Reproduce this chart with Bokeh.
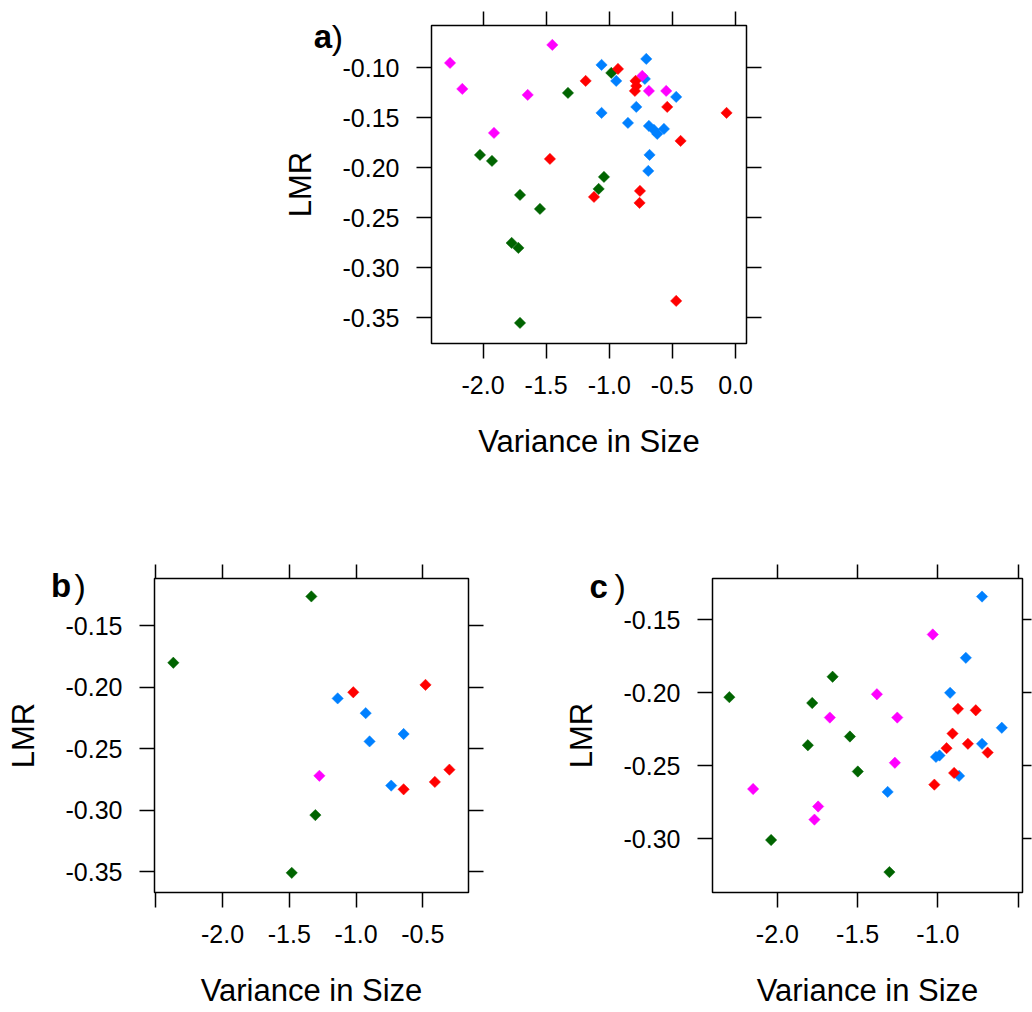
import numpy as np
from bokeh.plotting import figure
from bokeh.models import Range1d, LinearAxis, FixedTicker, Label
from bokeh.layouts import column, row
from bokeh.embed import file_html
from bokeh.resources import INLINE

# ---------------- data ----------------
# panel a
a_green_x = [-2.024, -1.929, -1.327, -0.984, -1.707, -1.549, -1.773, -1.720, -1.707, -1.042, -1.084]
a_green_y = [-0.187, -0.193, -0.125, -0.105, -0.227, -0.241, -0.275, -0.280, -0.355, -0.209, -0.221]
a_blue_x = [-1.061, -0.707, -0.945, -0.718, -0.470, -1.061, -0.786, -0.852, -0.686, -0.646, -0.620, -0.567, -0.681, -0.691]
a_blue_y = [-0.097, -0.091, -0.113, -0.111, -0.129, -0.145, -0.139, -0.155, -0.158, -0.162, -0.166, -0.161, -0.187, -0.203]
a_magenta_x = [-2.261, -2.164, -1.451, -1.646, -1.913, -0.739, -0.686, -0.549]
a_magenta_y = [-0.095, -0.121, -0.077, -0.127, -0.165, -0.108, -0.123, -0.123]
a_red_x = [-1.187, -0.931, -0.792, -0.786, -0.797, -0.541, -0.071, -0.435, -1.470, -1.121, -0.757, -0.760, -0.470]
a_red_y = [-0.113, -0.101, -0.113, -0.118, -0.123, -0.139, -0.145, -0.173, -0.191, -0.229, -0.223, -0.235, -0.333]

# panel b
b_green_x = [-1.335, -2.369, -1.305, -1.482]
b_green_y = [-0.126, -0.180, -0.304, -0.351]
b_blue_x = [-1.138, -0.928, -0.899, -0.644, -0.737]
b_blue_y = [-0.209, -0.221, -0.244, -0.238, -0.280]
b_magenta_x = [-1.275]
b_magenta_y = [-0.272]
b_red_x = [-1.021, -0.480, -0.301, -0.410, -0.644]
b_red_y = [-0.204, -0.198, -0.267, -0.277, -0.283]

# panel c
c_green_x = [-1.656, -2.299, -1.783, -1.548, -1.810, -1.499, -2.039, -1.302]
c_green_y = [-0.189, -0.203, -0.207, -0.230, -0.236, -0.254, -0.301, -0.323]
c_blue_x = [-0.725, -0.826, -0.924, -0.602, -0.725, -1.012, -0.990, -0.868, -1.313]
c_blue_y = [-0.134, -0.176, -0.200, -0.224, -0.235, -0.244, -0.243, -0.257, -0.268]
c_magenta_x = [-1.032, -1.380, -1.673, -1.253, -1.268, -2.151, -1.746, -1.769]
c_magenta_y = [-0.160, -0.201, -0.217, -0.217, -0.248, -0.266, -0.278, -0.287]
c_red_x = [-0.875, -0.764, -0.909, -0.813, -0.946, -0.690, -0.899, -1.022]
c_red_y = [-0.211, -0.212, -0.228, -0.235, -0.238, -0.241, -0.255, -0.263]

# ticks
a_xticks = [-2.0, -1.5, -1.0, -0.5, 0.0]
a_xlabels = ["-2.0", "-1.5", "-1.0", "-0.5", "0.0"]
a_yticks = [-0.35, -0.30, -0.25, -0.20, -0.15, -0.10]
a_ylabels = ["-0.35", "-0.30", "-0.25", "-0.20", "-0.15", "-0.10"]
b_xticks = [-2.5, -2.0, -1.5, -1.0, -0.5]
b_xlabels = ["", "-2.0", "-1.5", "-1.0", "-0.5"]
b_yticks = [-0.35, -0.30, -0.25, -0.20, -0.15]
b_ylabels = ["-0.35", "-0.30", "-0.25", "-0.20", "-0.15"]
c_xticks = [-2.0, -1.5, -1.0, -0.5]
c_xlabels = ["-2.0", "-1.5", "-1.0", ""]
c_yticks = [-0.30, -0.25, -0.20, -0.15]
c_ylabels = ["-0.30", "-0.25", "-0.20", "-0.15"]

colors = {"green": "#006400", "blue": "#0080FF", "magenta": "#FF00FF", "red": "#FF0000"}
FONT = "Liberation Sans"


def style_axis(ax, ticks, labels, show_labels, tick_out=15):
    ax.ticker = FixedTicker(ticks=ticks)
    ax.major_label_overrides = {t: (l if show_labels else "") for t, l in zip(ticks, labels)}
    ax.axis_line_color = None
    ax.major_tick_line_color = "black"
    ax.major_tick_line_width = 1.5
    ax.major_tick_out = tick_out
    ax.major_tick_in = 0
    ax.minor_tick_line_color = None
    ax.major_label_text_font = FONT
    ax.major_label_text_color = "black"
    ax.major_label_text_font_size = "25px" if show_labels else "0px"
    ax.axis_label_text_font = FONT
    ax.axis_label_text_font_size = "31px"
    ax.axis_label_text_font_style = "normal"
    ax.axis_label_text_color = "black"


def panel(width, height, left, right, top, bottom, xr, yr, xt, xl, yt, yl, data,
          letter, side, lx, ly, px, py, right_tick=15):
    p = figure(width=width, height=height, x_range=Range1d(*xr), y_range=Range1d(*yr),
               output_backend="svg", toolbar_location=None, tools="",
               x_axis_location=None, y_axis_location=None,
               min_border_left=left, min_border_right=right,
               min_border_top=top, min_border_bottom=bottom)
    p.grid.visible = False
    p.outline_line_color = "black"
    p.outline_line_width = 1.5
    p.background_fill_color = "white"
    p.border_fill_color = "white"

    xb = LinearAxis(axis_label="Variance in Size")
    style_axis(xb, xt, xl, True)
    xb.major_label_standoff = 17
    xb.axis_label_standoff = 27
    p.add_layout(xb, "below")
    xa = LinearAxis()
    style_axis(xa, xt, xl, False, 14)
    xa.major_label_standoff = 0
    p.add_layout(xa, "above")
    yb = LinearAxis(axis_label="LMR")
    style_axis(yb, yt, yl, True)
    yb.major_label_standoff = 17
    yb.axis_label_standoff = 22
    p.add_layout(yb, "left")
    ya = LinearAxis()
    style_axis(ya, yt, yl, False, right_tick)
    ya.major_label_standoff = 0
    p.add_layout(ya, "right")

    for name in ["green", "blue", "magenta", "red"]:
        xs, ys = data[name]
        p.scatter(xs, ys, marker="square", angle=np.pi / 4, size=8,
                  fill_color=colors[name], line_color=colors[name], line_width=0.5)

    # panel letter, placed in a side panel so that it is not clipped by the frame
    p.add_layout(Label(x=px, y=py, x_units="screen", y_units="screen", text=")",
                       text_font=FONT, text_font_size="34px",
                       text_color="black", text_baseline="alphabetic", text_align="left"), side)
    p.add_layout(Label(x=lx, y=ly, x_units="screen", y_units="screen", text=letter,
                       text_font=FONT, text_font_style="bold", text_font_size="33px",
                       text_color="black", text_baseline="alphabetic", text_align="left"), side)
    return p


pa = panel(1032, 480, 431, 286, 25, 137, (-2.408, 0.087), (-0.3756, -0.0576),
           a_xticks, a_xlabels, a_yticks, a_ylabels,
           {"green": (a_green_x, a_green_y), "blue": (a_blue_x, a_blue_y),
            "magenta": (a_magenta_x, a_magenta_y), "red": (a_red_x, a_red_y)},
           "a", "left", 63.3, 307.5, 63.3, 307)

pb = panel(560, 530, 154, 92, 98, 116, (-2.51, -0.158), (-0.367, -0.1114),
           b_xticks, b_xlabels, b_yticks, b_ylabels,
           {"green": (b_green_x, b_green_y), "blue": (b_blue_x, b_blue_y),
            "magenta": (b_magenta_x, b_magenta_y), "red": (b_red_x, b_red_y)},
           "b", "above", -103.5, -59, -80, -21)

pc = panel(472, 530, 148, 10, 98, 116, (-2.404, -0.473), (-0.337, -0.1216),
           c_xticks, c_xlabels, c_yticks, c_ylabels,
           {"green": (c_green_x, c_green_y), "blue": (c_blue_x, c_blue_y),
            "magenta": (c_magenta_x, c_magenta_y), "red": (c_red_x, c_red_y)},
           "c", "above", -123, -60, -98, -21, right_tick=9)

layout = column(pa, row(pb, pc, spacing=0), spacing=0)

open("out.html", "w").write(file_html(layout, INLINE))
